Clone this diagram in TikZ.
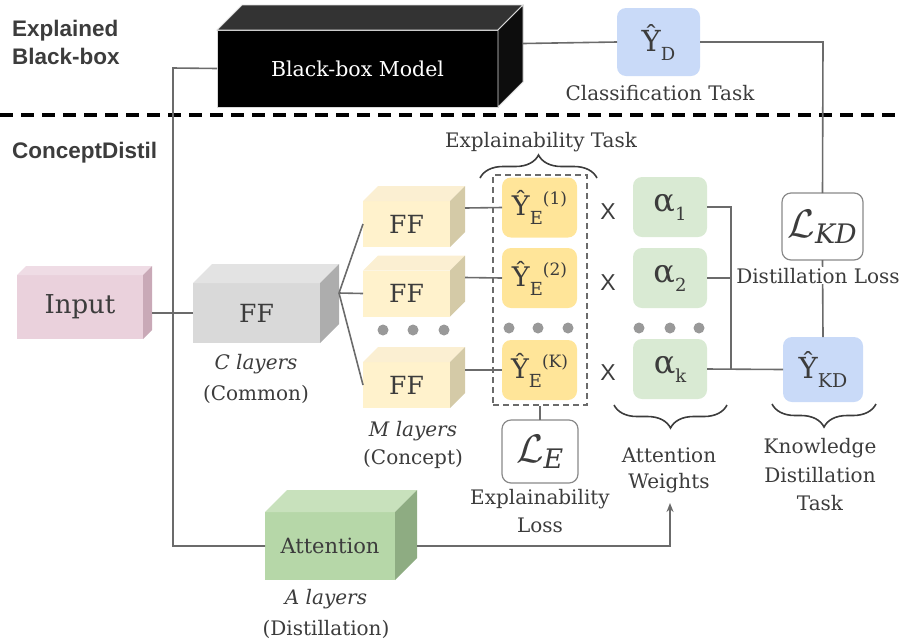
\documentclass[tikz,border=0pt]{standalone}
\usepackage{fontspec}
\setmainfont{DejaVu Serif}
\newfontfamily\lblfont{Liberation Sans}
\usetikzlibrary{calc,decorations.pathreplacing,arrows.meta}
\definecolor{txt}{HTML}{3C3C3C}
\definecolor{ln}{HTML}{6B6B6B}
\definecolor{bbtop}{HTML}{333333}
\definecolor{bbside}{HTML}{0D0D0D}
\definecolor{inF}{HTML}{EAD1DC}
\definecolor{inT}{HTML}{EFDCE5}
\definecolor{inS}{HTML}{C9A9B7}
\definecolor{gF}{HTML}{D9D9D9}
\definecolor{gT}{HTML}{E3E3E3}
\definecolor{gS}{HTML}{ADADAD}
\definecolor{yF}{HTML}{FFF2CC}
\definecolor{yT}{HTML}{FBEFD2}
\definecolor{yS}{HTML}{D4CAA7}
\definecolor{aF}{HTML}{B6D7A8}
\definecolor{aT}{HTML}{C8E1BC}
\definecolor{aS}{HTML}{8EAC82}
\definecolor{yE}{HTML}{FFE599}
\definecolor{alf}{HTML}{D9EAD3}
\definecolor{blu}{HTML}{C9DAF8}
\definecolor{dotc}{HTML}{999999}
\newcommand\cubeside[4]{%
  \path[#3] (#1.north west) -- ++(#2,-#2) -- ($(#1.north east)+(#2,-#2)$) -- (#1.north east) -- cycle;
  \path[#4] (#1.north east) -- ++(#2,-#2) -- ($(#1.south east)+(#2,-#2)$) -- (#1.south east) -- cycle;}
\newcommand\subA[1]{\raisebox{-9pt}{\fontsize{18}{18}\selectfont #1}}
\newcommand\supA[1]{\raisebox{11pt}{\fontsize{17}{17}\selectfont #1}}
\newcommand\lossL[1]{\fontsize{24}{24}\selectfont\scalebox{1.6}{$\mathcal{L}_{\mathit{#1}}$}}
\tikzset{
  conn/.style={draw=ln, line width=1.6pt},
  front/.style={inner sep=0pt, outer sep=0pt, text=txt},
  rbox/.style={rounded corners=9pt, inner sep=0pt, outer sep=0pt, text=txt},
  lbl/.style={text=txt, font=\fontsize{20}{20}\selectfont, inner sep=0pt, anchor=base},
  ilbl/.style={lbl, font=\fontsize{20}{20}\selectfont\itshape},
  sec/.style={text=txt, font=\lblfont\bfseries\fontsize{22.5}{22.5}\selectfont, inner sep=0pt, anchor=base west},
  xmark/.style={text=txt, font=\lblfont\fontsize{23}{23}\selectfont, inner sep=0pt},
  dotn/.style={circle, fill=dotc, inner sep=0pt, minimum size=11pt},
  brace/.style={draw=txt, line width=1.6pt, decorate, decoration={brace, amplitude=23pt}},
}
\begin{document}
\begin{tikzpicture}[x=1pt,y=-1pt]
\useasboundingbox (0,0) rectangle (901,641);
% section labels
\node[sec] (secA1) at (12,36) {Explained};
\node[sec] (secA2) at (12,64) {Black-box};
\node[sec] (secB) at (12,158) {ConceptDistil};
\draw[black, line width=3.2pt, dash pattern=on 13pt off 8pt] (0,115) -- (901,115);

% black-box model
\node[front, fill=black, draw=gray!30, line width=0.8pt, minimum width=281pt, minimum height=77pt, text=white, font=\fontsize{20.5}{20.5}\selectfont] (bb) at (357.5,68.5) {Black-box Model};
\cubeside{bb}{25}{fill=bbtop, draw=gray!30, line width=0.8pt}{fill=bbside, draw=gray!30, line width=0.8pt}

% classification
\node[rbox, fill=blu, minimum width=83pt, minimum height=68pt, font=\fontsize{29}{29}\selectfont] (yd) at (658.5,42) {\^Y\subA{D}};
\node[lbl] (clsT) at (660,100) {Classification Task};

% input
\node[front, fill=inF, minimum width=126pt, minimum height=64pt, font=\fontsize{26}{26}\selectfont] (inp) at (80,307) {Input};
\cubeside{inp}{9}{fill=inT}{fill=inS}

% common FF
\node[front, fill=gF, minimum width=127pt, minimum height=60pt, font=\fontsize{25}{25}\selectfont] (ffc) at (256.5,313) {FF};
\cubeside{ffc}{19}{fill=gT}{fill=gS}
\node[ilbl] (cl1) at (256,369) {C layers};
\node[lbl] (cl2) at (256,400) {(Common)};

% concept FFs
\node[front, fill=yF, minimum width=87pt, minimum height=46pt, font=\fontsize{25}{25}\selectfont] (ff1) at (406.5,224) {FF};
\cubeside{ff1}{15}{fill=yT}{fill=yS}
\node[front, fill=yF, minimum width=87pt, minimum height=46pt, font=\fontsize{25}{25}\selectfont] (ff2) at (406.5,293.5) {FF};
\cubeside{ff2}{15}{fill=yT}{fill=yS}
\node[front, fill=yF, minimum width=87pt, minimum height=46pt, font=\fontsize{25}{25}\selectfont] (ffk) at (406.5,385) {FF};
\cubeside{ffk}{15}{fill=yT}{fill=yS}
\node[dotn] (d1) at (383,330) {};
\node[dotn] (d2) at (413,330) {};
\node[dotn] (d3) at (444,330) {};
\node[ilbl] (ml1) at (413,436) {M layers};
\node[lbl] (ml2) at (413,464) {(Concept)};

% explainability outputs
\node[draw=ln, line width=1.6pt, dash pattern=on 6pt off 4pt, inner sep=0pt, minimum width=94pt, minimum height=230pt] (exbox) at (540,290) {};
\node[rbox, fill=yE, minimum width=75pt, minimum height=60pt, font=\fontsize{27}{27}\selectfont] (ye1) at (539.5,207.5) {\^Y\subA{E}\supA{(1)}};
\node[rbox, fill=yE, minimum width=75pt, minimum height=60pt, font=\fontsize{27}{27}\selectfont] (ye2) at (539.5,278) {\^Y\subA{E}\supA{(2)}};
\node[rbox, fill=yE, minimum width=75pt, minimum height=60pt, font=\fontsize{27}{27}\selectfont] (yek) at (539.5,370) {\^Y\subA{E}\supA{(K)}};
\node[dotn] (e1) at (509,328) {};
\node[dotn] (e2) at (538,328) {};
\node[dotn] (e3) at (568,328) {};
\draw[brace] (480,178) -- (597,178);
\node[lbl] (exT) at (541,147) {Explainability Task};

% X marks
\node[xmark] (x1) at (608,212) {X};
\node[xmark] (x2) at (608,283) {X};
\node[xmark] (x3) at (608,373) {X};

% alphas
\node[rbox, fill=alf, minimum width=74pt, minimum height=60pt, font=\fontsize{32}{32}\selectfont] (a1) at (670,207) {α\subA{1}};
\node[rbox, fill=alf, minimum width=74pt, minimum height=60pt, font=\fontsize{32}{32}\selectfont] (a2) at (670,278) {α\subA{2}};
\node[rbox, fill=alf, minimum width=74pt, minimum height=60pt, font=\fontsize{32}{32}\selectfont] (ak) at (670,369) {α\subA{k}};
\node[dotn] (f1) at (639,328) {};
\node[dotn] (f2) at (670,328) {};
\node[dotn] (f3) at (699,328) {};
\draw[brace] (727,405) -- (614,405);
\node[lbl] (aw1) at (669,462) {Attention};
\node[lbl] (aw2) at (669,488) {Weights};

% KD
\node[rbox, fill=white, draw=ln!80, line width=1.2pt, minimum width=81pt, minimum height=67pt] (lkd) at (822.5,226.5) {\lossL{KD}};
\node[rbox, fill=blu, minimum width=80pt, minimum height=65pt, font=\fontsize{29}{29}\selectfont] (ykd) at (823,369.5) {\^Y\subA{\fontsize{19}{19}\selectfont KD}};
\draw[conn] (lkd.south) -- (ykd.north);
\node[lbl, fill=white, inner sep=1pt] (dl) at (818,283) {Distillation Loss};
\draw[brace] (876,404) -- (772,404);
\node[lbl] (kd1) at (820,453) {Knowledge};
\node[lbl] (kd2) at (820,482) {Distillation};
\node[lbl] (kd3) at (820,510) {Task};

% explainability loss
\node[rbox, fill=white, draw=ln!80, line width=1.2pt, minimum width=76pt, minimum height=63pt] (le) at (540,451.5) {\lossL{E}};
\node[lbl] (el1) at (540,504) {Explainability};
\node[lbl] (el2) at (540,532) {Loss};

% attention
\node[front, fill=aF, minimum width=130pt, minimum height=68pt, font=\fontsize{21}{21}\selectfont] (att) at (330,546) {Attention};
\cubeside{att}{22}{fill=aT}{fill=aS}
\node[ilbl] (al1) at (326,604) {A layers};
\node[lbl] (al2) at (326,635) {(Distillation)};

% connectors
\draw[conn] (bb.west) -- (173,68) -- (173,546) -- (att.west);
\draw[conn] ($(bb.east)+(25,-25)$) -- (yd.west);
\draw[conn] (yd.east) -- (823,42) -- (lkd.north);
\draw[conn] ($(inp.east)+(9,6)$) -- (ffc.west);
\coordinate (fork) at ($(ffc.north east)+(19,10)$);
\draw[conn] (fork) -- (ff1.west);
\draw[conn] (fork) -- (ff2.west);
\draw[conn] (fork) -- (ffk.west);
\draw[conn] ($(ff1.east)+(15,-16)$) -- (ye1.west);
\draw[conn] ($(ff2.east)+(15,-16)$) -- (ye2.west);
\draw[conn] ($(ffk.east)+(15,-15)$) -- (yek.west);
\draw[conn] (exbox.south) -- (le.north);
\draw[conn] (a1.east) -- (731,207) -- (731,369);
\draw[conn] (a2.east) -- (731,278);
\draw[conn] (ak.east) -- (ykd.west);
\draw[conn, -{Stealth[length=9pt,width=7pt]}] ($(att.east)+(22,0)$) -- (670,546) -- (670,503);
\end{tikzpicture}
\end{document}
